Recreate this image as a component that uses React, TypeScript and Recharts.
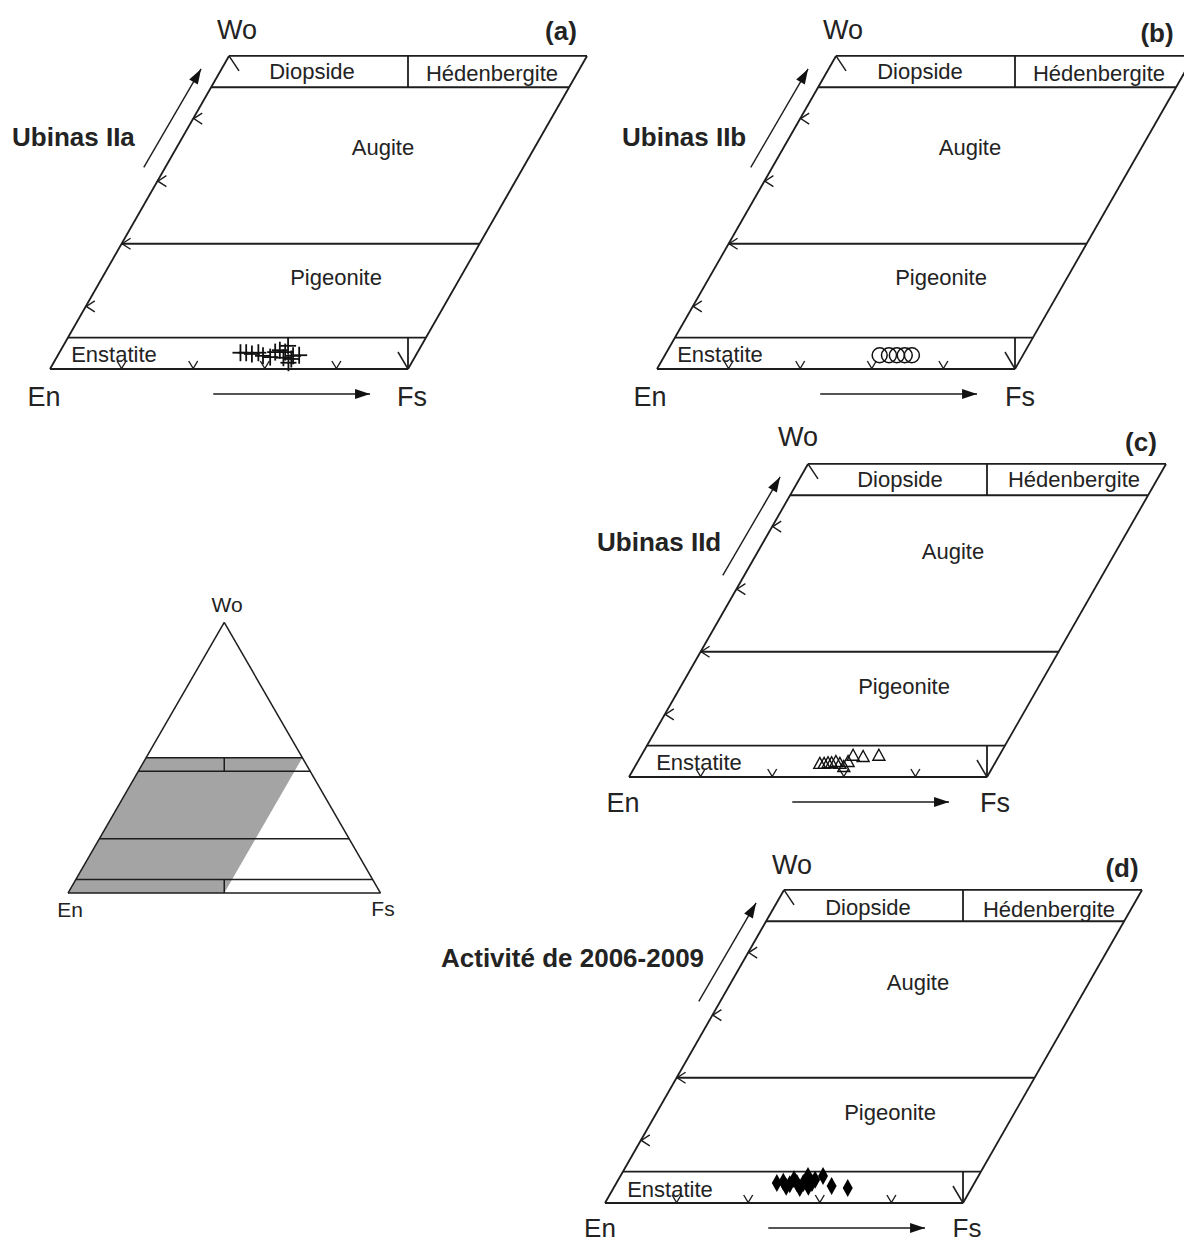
import React from 'react';
import { ScatterChart, ComposedChart, Scatter, Area, XAxis, YAxis, ReferenceLine } from 'recharts';

const R3 = Math.sqrt(3) / 2;
const INK = '#1d1d1d';
const TXT = '#232323';
const FONT = '"Liberation Sans", Arial, Helvetica, sans-serif';

// ---------- pyroxene quadrilateral (ternary Wo-En-Fs, in %) ----------
const QUAD_FS = [0, 50];
const QUAD_WO = [0, 50];
const FIELD_WO_LIMITS = [5, 20, 45];
const BASE_TICKS_FS = [10, 20, 30, 40];
const SIDE_TICKS_WO = [10, 20, 30, 40];
const DIVIDER_LOW = [{ fs: 50, wo: 0 }, { fs: 47.5, wo: 5 }];
const DIVIDER_HIGH = [{ fs: 27.5, wo: 45 }, { fs: 25, wo: 50 }];
const FIELD_NAMES = ['Diopside', 'Hédenbergite', 'Augite', 'Pigeonite', 'Enstatite'];
const END_MEMBERS = ['Wo', 'En', 'Fs'];

// ---------- analyses (Fs %, Wo %) ----------
const ubinasIIa = [
  { fs: 25.3, wo: 2.6 }, { fs: 26.1, wo: 2.6 }, { fs: 27.0, wo: 2.4 }, { fs: 27.8, wo: 2.6 },
  { fs: 28.7, wo: 2.1 }, { fs: 29.8, wo: 1.9 }, { fs: 30.1, wo: 2.7 }, { fs: 30.6, wo: 3.0 },
  { fs: 31.5, wo: 2.7 }, { fs: 31.4, wo: 3.7 }, { fs: 32.8, wo: 1.0 }, { fs: 32.9, wo: 2.1 },
  { fs: 33.7, wo: 2.2 }, { fs: 31.7, wo: 1.8 }, { fs: 32.9, wo: 1.6 },
];
const ubinasIIb = [
  { fs: 30.0, wo: 2.2 }, { fs: 31.3, wo: 2.2 }, { fs: 32.4, wo: 2.2 }, { fs: 33.5, wo: 2.2 }, { fs: 34.5, wo: 2.2 },
];
const ubinasIId = [
  { fs: 25.6, wo: 2.1 }, { fs: 26.2, wo: 2.1 }, { fs: 26.7, wo: 2.2 }, { fs: 27.2, wo: 2.2 },
  { fs: 27.7, wo: 2.4 }, { fs: 28.4, wo: 2.1 }, { fs: 29.2, wo: 1.6 }, { fs: 29.4, wo: 2.4 },
  { fs: 29.6, wo: 3.4 }, { fs: 31.1, wo: 3.2 }, { fs: 33.2, wo: 3.4 },
];
const activite20062009 = [
  { fs: 22.4, wo: 3.2 }, { fs: 23.2, wo: 3.4 }, { fs: 24.0, wo: 2.6 }, { fs: 24.3, wo: 3.0 },
  { fs: 24.5, wo: 3.8 }, { fs: 25.2, wo: 3.2 }, { fs: 26.0, wo: 2.4 }, { fs: 26.1, wo: 3.2 },
  { fs: 26.2, wo: 4.3 }, { fs: 27.1, wo: 2.6 }, { fs: 27.3, wo: 3.2 }, { fs: 27.5, wo: 3.7 },
  { fs: 28.3, wo: 4.3 }, { fs: 30.3, wo: 2.7 }, { fs: 32.7, wo: 2.4 },
];

// ---------- inset ternary ----------
const TRI_WO_LINES = [5, 20, 45, 50];
const SHADE = [{ fs: 0, wo: 0 }, { fs: 50, wo: 0 }, { fs: 50, wo: 50 }, { fs: 0, wo: 50 }];

// annotation arrows (chart units of the quadrilateral)
const ARROW_SIDE = [{ x: 13.1, y: 27.9 }, { x: 21.1, y: 41.5 }];
const ARROW_BASE = [{ x: 22.8, y: -3.46 }, { x: 44.7, y: -3.46 }];

type Comp = { fs: number; wo: number };
const toXY = (c: Comp) => ({ x: c.fs + c.wo / 2, y: c.wo * R3 });

// geometry (pixels)
const SX = 7.16;
const SY = 7.23;
const PW = 640;
const PH = 400;
const PAD_L = 70;
const PAD_B = 50;

const quadSegments = (): Comp[][] => {
  const [f0, f1] = QUAD_FS;
  const [w0, w1] = QUAD_WO;
  const s: Comp[][] = [
    [{ fs: f0, wo: w0 }, { fs: f1, wo: w0 }],
    [{ fs: f0, wo: w1 }, { fs: f1, wo: w1 }],
    [{ fs: f0, wo: w0 }, { fs: f0, wo: w1 }],
    [{ fs: f1, wo: w0 }, { fs: f1, wo: w1 }],
  ];
  FIELD_WO_LIMITS.forEach((w) => s.push([{ fs: f0, wo: w }, { fs: f1, wo: w }]));
  s.push(DIVIDER_LOW, DIVIDER_HIGH);
  return s;
};

const triSegments = (): Comp[][] => {
  const s: Comp[][] = [
    [{ fs: 0, wo: 0 }, { fs: 100, wo: 0 }],
    [{ fs: 100, wo: 0 }, { fs: 0, wo: 100 }],
    [{ fs: 0, wo: 100 }, { fs: 0, wo: 0 }],
  ];
  TRI_WO_LINES.forEach((w) => s.push([{ fs: 0, wo: w }, { fs: 100 - w, wo: w }]));
  s.push(DIVIDER_LOW, DIVIDER_HIGH);
  return s;
};

// shapes
const plusShape = (p: any) => (
  <g>
    <line x1={p.cx - 8} y1={p.cy} x2={p.cx + 8} y2={p.cy} stroke="#111" strokeWidth={1.8} />
    <line x1={p.cx} y1={p.cy - 8.5} x2={p.cx} y2={p.cy + 8.5} stroke="#111" strokeWidth={1.8} />
  </g>
);
const circleShape = (p: any) => <circle cx={p.cx} cy={p.cy} r={7.5} fill="none" stroke="#111" strokeWidth={1.5} />;
const triShape = (p: any) => (
  <path d={`M${p.cx},${p.cy - 6.5}L${p.cx + 6},${p.cy + 4.5}L${p.cx - 6},${p.cy + 4.5}Z`} fill="none" stroke="#111" strokeWidth={1.4} />
);
const diamondShape = (p: any) => (
  <path d={`M${p.cx},${p.cy - 9}L${p.cx + 5},${p.cy}L${p.cx},${p.cy + 9}L${p.cx - 5},${p.cy}Z`} fill="#000" />
);
const vTick = (p: any) => (
  <path d={`M${p.cx - 4.5},${p.cy - 8}L${p.cx},${p.cy - 0.5}L${p.cx + 4.5},${p.cy - 8}`} fill="none" stroke={INK} strokeWidth={1.4} />
);
const lTick = (p: any) => (
  <path d={`M${p.cx + 9},${p.cy - 5.5}L${p.cx + 0.5},${p.cy}L${p.cx + 9},${p.cy + 5.5}`} fill="none" stroke={INK} strokeWidth={1.4} />
);
const fsCornerTick = (p: any) => <path d={`M${p.cx - 10},${p.cy - 17}L${p.cx},${p.cy}`} fill="none" stroke={INK} strokeWidth={1.5} />;
const woCornerTick = (p: any) => <path d={`M${p.cx},${p.cy}L${p.cx + 10},${p.cy + 15}`} fill="none" stroke={INK} strokeWidth={1.5} />;
const arrowHead = (ang: number) => (p: any) => {
  const L = 15, W = 5;
  const c = Math.cos(ang), s = Math.sin(ang);
  const bx = p.cx - L * c, by = p.cy - L * s;
  return <path d={`M${p.cx},${p.cy}L${bx - W * s},${by + W * c}L${bx + W * s},${by - W * c}Z`} fill="#111" />;
};
const angleOf = (a: { x: number; y: number }[]) => Math.atan2(-(a[1].y - a[0].y) * SY, (a[1].x - a[0].x) * SX);

const MARKERS: Record<string, (p: any) => any> = { plus: plusShape, circle: circleShape, tri: triShape, diamond: diamondShape };

type Panel = {
  en: [number, number];
  letter: string;
  title: string;
  titleAt: [number, number];
  letterAt: [number, number];
  woAt: [number, number];
  enAt: [number, number];
  fsAt: [number, number];
  endSize: number;
  fields: [number, number][];
  data: Comp[];
  marker: string;
};

const PANELS: Panel[] = [
  {
    en: [50, 369], letter: '(a)', title: 'Ubinas IIa', titleAt: [-38, -232], letterAt: [511, -338],
    woAt: [187, -339], enAt: [-6, 28], fsAt: [362, 28], endSize: 27,
    fields: [[262, -297], [442, -295], [333, -221], [286, -91], [64, -14]], data: ubinasIIa, marker: 'plus',
  },
  {
    en: [657, 369], letter: '(b)', title: 'Ubinas IIb', titleAt: [-35, -232], letterAt: [500, -336],
    woAt: [186, -339], enAt: [-7, 28], fsAt: [363, 28], endSize: 27,
    fields: [[263, -297], [442, -295], [313, -221], [284, -91], [63, -14]], data: ubinasIIb, marker: 'circle',
  },
  {
    en: [629, 777], letter: '(c)', title: 'Ubinas IId', titleAt: [-32, -235], letterAt: [512, -335],
    woAt: [169, -340], enAt: [-6, 26], fsAt: [366, 26], endSize: 27,
    fields: [[271, -297], [445, -297], [324, -225], [275, -90], [70, -14]], data: ubinasIId, marker: 'tri',
  },
  {
    en: [605, 1203], letter: '(d)', title: 'Activité de 2006-2009', titleAt: [-164, -245], letterAt: [517, -335],
    woAt: [187, -338], enAt: [-5, 25], fsAt: [362, 25], endSize: 26,
    fields: [[263, -295], [444, -293], [313, -220], [285, -90], [65, -13]], data: activite20062009, marker: 'diamond',
  },
];

function Txt({ x, y, size, bold, left, children }: any) {
  return (
    <div
      style={{
        position: 'absolute', left: x, top: y,
        transform: left ? 'translate(0,-50%)' : 'translate(-50%,-50%)',
        fontFamily: FONT, fontSize: size, fontWeight: bold ? 700 : 400, color: TXT,
        lineHeight: 1, whiteSpace: 'nowrap',
      }}
    >
      {children}
    </div>
  );
}

function QuadPanel({ p }: { p: Panel }) {
  const xDom = [-PAD_L / SX, (PW - PAD_L) / SX];
  const yDom = [-PAD_B / SY, (PH - PAD_B) / SY];
  const pts = p.data.map(toXY);
  const base = BASE_TICKS_FS.map((f) => toXY({ fs: f, wo: 0 }));
  const side = SIDE_TICKS_WO.map((w) => toXY({ fs: 0, wo: w }));
  const fsCorner = [toXY({ fs: QUAD_FS[1], wo: 0 })];
  const woCorner = [toXY({ fs: 0, wo: QUAD_WO[1] })];
  const [ex, ey] = p.en;
  return (
    <>
      <div style={{ position: 'absolute', left: ex - PAD_L, top: ey - (PH - PAD_B), width: PW, height: PH }}>
        <ScatterChart width={PW} height={PH} margin={{ top: 0, right: 0, bottom: 0, left: 0 }}>
          <XAxis type="number" dataKey="x" domain={xDom} hide allowDataOverflow />
          <YAxis type="number" dataKey="y" domain={yDom} hide allowDataOverflow />
          {quadSegments().map((s, i) => (
            <ReferenceLine key={i} segment={[toXY(s[0]), toXY(s[1])]} stroke={INK} strokeWidth={1.8} ifOverflow="visible" />
          ))}
          <ReferenceLine segment={ARROW_SIDE} stroke={INK} strokeWidth={1.4} ifOverflow="visible" />
          <ReferenceLine segment={ARROW_BASE} stroke={INK} strokeWidth={1.4} ifOverflow="visible" />
          <Scatter data={[ARROW_SIDE[1]]} shape={arrowHead(angleOf(ARROW_SIDE))} isAnimationActive={false} />
          <Scatter data={[ARROW_BASE[1]]} shape={arrowHead(angleOf(ARROW_BASE))} isAnimationActive={false} />
          <Scatter data={base} shape={vTick} isAnimationActive={false} />
          <Scatter data={side} shape={lTick} isAnimationActive={false} />
          <Scatter data={fsCorner} shape={fsCornerTick} isAnimationActive={false} />
          <Scatter data={woCorner} shape={woCornerTick} isAnimationActive={false} />
          <Scatter data={pts} shape={MARKERS[p.marker]} isAnimationActive={false} />
        </ScatterChart>
      </div>
      <Txt x={ex + p.woAt[0]} y={ey + p.woAt[1]} size={27}>{END_MEMBERS[0]}</Txt>
      <Txt x={ex + p.enAt[0]} y={ey + p.enAt[1]} size={p.endSize}>{END_MEMBERS[1]}</Txt>
      <Txt x={ex + p.fsAt[0]} y={ey + p.fsAt[1]} size={p.endSize}>{END_MEMBERS[2]}</Txt>
      <Txt x={ex + p.letterAt[0]} y={ey + p.letterAt[1]} size={26} bold>{p.letter}</Txt>
      <Txt x={ex + p.titleAt[0]} y={ey + p.titleAt[1]} size={26} bold left>{p.title}</Txt>
      {FIELD_NAMES.map((n, i) => (
        <Txt key={n} x={ex + p.fields[i][0]} y={ey + p.fields[i][1]} size={22}>{n}</Txt>
      ))}
    </>
  );
}

// inset triangle geometry
const T = 3.125;
const T_EN: [number, number] = [68, 893];
const T_PAD = 14;
const TW = 341;
const TH = 300;

const shadeRange = () => {
  const c = SHADE.map(toXY); // En, Fs50, top-right, top-left
  const lower = [c[0], c[1], c[2]];
  const upper = [c[0], c[3], c[2]];
  const interp = (line: { x: number; y: number }[], x: number) => {
    for (let i = 0; i < line.length - 1; i++) {
      const a = line[i], b = line[i + 1];
      if (x >= a.x - 1e-9 && x <= b.x + 1e-9) {
        return b.x === a.x ? a.y : a.y + ((x - a.x) / (b.x - a.x)) * (b.y - a.y);
      }
    }
    return line[line.length - 1].y;
  };
  const xs = Array.from(new Set(c.map((q) => q.x))).sort((a, b) => a - b);
  return xs.map((x) => ({ x, r: [interp(lower, x), interp(upper, x)] }));
};

function Inset() {
  const xDom = [-T_PAD / T, (TW - T_PAD) / T];
  const yDom = [-T_PAD / T, (TH - T_PAD) / T];
  return (
    <>
      <div style={{ position: 'absolute', left: T_EN[0] - T_PAD, top: T_EN[1] - (TH - T_PAD), width: TW, height: TH }}>
        <ComposedChart width={TW} height={TH} data={shadeRange()} margin={{ top: 0, right: 0, bottom: 0, left: 0 }}>
          <XAxis type="number" dataKey="x" domain={xDom} hide allowDataOverflow />
          <YAxis type="number" domain={yDom} hide allowDataOverflow />
          <Area type="linear" dataKey="r" stroke="none" fill="#a4a4a4" fillOpacity={1} dot={false} activeDot={false} isAnimationActive={false} />
          {triSegments().map((s, i) => (
            <ReferenceLine key={i} segment={[toXY(s[0]), toXY(s[1])]} stroke={INK} strokeWidth={1.5} ifOverflow="visible" />
          ))}
        </ComposedChart>
      </div>
      <Txt x={227} y={604} size={21}>{END_MEMBERS[0]}</Txt>
      <Txt x={70} y={909} size={21}>{END_MEMBERS[1]}</Txt>
      <Txt x={383} y={908} size={21}>{END_MEMBERS[2]}</Txt>
    </>
  );
}

export default function App() {
  return (
    <div style={{ position: 'absolute', left: 0, top: 0, width: 1184, height: 1242, overflow: 'hidden', background: '#fff' }}>
      {PANELS.map((p) => (
        <QuadPanel key={p.letter} p={p} />
      ))}
      <Inset />
    </div>
  );
}
